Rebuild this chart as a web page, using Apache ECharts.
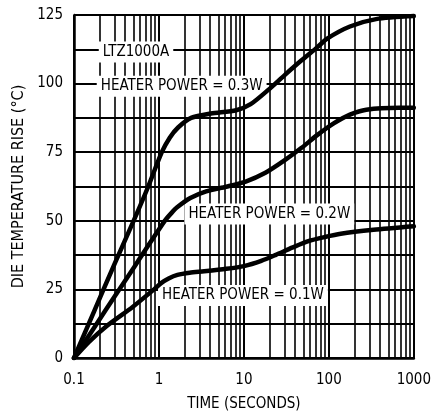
<!DOCTYPE html>
<html><head><meta charset="utf-8">
<script src="https://cdn.jsdelivr.net/npm/echarts@6/dist/echarts.min.js"></script>
<style>html,body{margin:0;padding:0;background:#fff}#c{width:434px;height:417px}</style>
</head><body><div id="c"></div>
<script>
// Heater power = 0.3W
const time03 = [0.1, 0.174, 0.304, 0.512, 0.748, 1.08, 1.34, 1.68, 2.39, 4.07, 8.1, 12, 19.5, 30.4, 47.3, 73.4, 95.5, 177, 359, 1000];
const temp03 = [0, 17.3, 34.7, 50.5, 62.5, 75, 80.3, 84, 87.5, 89.1, 90.3, 92.5, 97.8, 103.2, 108.4, 113.3, 116.4, 120.8, 123.5, 124.6];
// Heater power = 0.2W
const time02 = [0.1, 0.178, 0.302, 0.51, 0.655, 0.869, 1.17, 1.4, 1.65, 2.34, 3.6, 6.2, 10.5, 17.9, 30, 47.3, 73.4, 114, 177, 276, 667, 1000];
const temp02 = [0, 11.7, 22.5, 33.1, 38.3, 44, 50, 52.8, 55, 58.3, 60.7, 62.4, 64.3, 67.5, 72, 76.5, 81.3, 85.5, 88.7, 90.5, 91.2, 91.2];
// Heater power = 0.1W
const time01 = [0.1, 0.149, 0.239, 0.49, 0.875, 1.06, 1.3, 1.65, 2.3, 3.4, 6.2, 10, 16, 23.8, 36.9, 57.4, 89.3, 138, 335, 1000];
const temp01 = [0, 5.8, 11.5, 18.6, 25, 27.3, 29, 30.3, 31.1, 31.6, 32.5, 33.5, 35.4, 37.6, 40.2, 42.6, 44.1, 45.3, 46.7, 48];

const xTickLabels = ['0.1', '1', '10', '100', '1000'];
const yTickLabels = [0, 25, 50, 75, 100, 125];
const minorX = [0.2,0.3,0.4,0.5,0.6,0.7,0.8,0.9, 2,3,4,5,6,7,8,9, 20,30,40,50,60,70,80,90, 200,300,400,500,600,700,800,900];

const labelTexts = ['LTZ1000A', 'HEATER POWER = 0.3W', 'HEATER POWER = 0.2W', 'HEATER POWER = 0.1W'];
const labelTimes = [0.537, 1.85, 19.9, 9.74];
const labelTemps = [111.5, 99, 52.5, 22.8];

const FONT = '"Liberation Sans Narrow","DejaVu Sans Condensed","Arial Narrow",sans-serif';
const zip = (a, b) => a.map((v, i) => [v, b[i]]);

const curve = (name, t, y) => ({
  name, type: 'line', data: zip(t, y), smooth: 0.25, showSymbol: false, symbol: 'none',
  lineStyle: { color: '#000', width: 4.5, join: 'round', cap: 'round' }, z: 10, silent: true
});

const chart = echarts.init(document.getElementById('c'), null, { renderer: 'canvas' });
chart.setOption({
  animation: false,
  backgroundColor: '#fff',
  textStyle: { fontFamily: FONT, color: '#000' },
  grid: { left: 74, right: 12, top: 15, bottom: 54, containLabel: false },
  xAxis: {
    type: 'log', logBase: 10, min: 0.1, max: 1000,
    name: 'TIME (SECONDS)', nameLocation: 'middle', nameGap: 39,
    nameTextStyle: { fontSize: 15, color: '#000', fontFamily: FONT },
    axisLine: { show: true, lineStyle: { color: '#000', width: 2.5 } },
    axisTick: { show: false },
    splitLine: { show: true, lineStyle: { color: '#000', width: 2 } },
    axisLabel: {
      fontSize: 15, color: '#000', margin: 15, fontFamily: FONT,
      formatter: v => {
        const i = Math.round(Math.log10(v) + 1);
        return xTickLabels[i] !== undefined ? xTickLabels[i] : '';
      }
    }
  },
  yAxis: {
    type: 'value', min: 0, max: 125, interval: 12.5,
    name: 'DIE TEMPERATURE RISE (°C)', nameLocation: 'middle', nameGap: 40, nameRotate: 90,
    nameTextStyle: { fontSize: 16, color: '#000', fontFamily: FONT },
    axisLine: { show: true, lineStyle: { color: '#000', width: 2.5 } },
    axisTick: { show: false },
    splitLine: { show: true, lineStyle: { color: '#000', width: 2 } },
    axisLabel: {
      fontSize: 15, color: '#000', margin: 11, fontFamily: FONT,
      formatter: v => (yTickLabels.indexOf(Math.round(v * 10) / 10) >= 0 ? String(v) : '')
    }
  },
  series: [
    {
      name: 'minorGrid', type: 'line', data: [], silent: true, z: 1,
      markLine: {
        silent: true, symbol: ['none', 'none'], z: 1, animation: false,
        label: { show: false },
        lineStyle: { color: '#000', width: 1.6, type: 'solid' },
        emphasis: { disabled: true },
        data: minorX.map(v => ({ xAxis: v }))
      }
    },
    {
      name: 'labels', type: 'line', data: [], silent: true, z: 3,
      markPoint: {
        silent: true, z: 3, symbol: 'rect', symbolSize: 1, animation: false,
        itemStyle: { color: 'rgba(0,0,0,0)' },
        label: {
          show: true, position: 'inside', formatter: '{b}', fontSize: 15, color: '#000',
          fontFamily: FONT, backgroundColor: '#fff', padding: [3, 4]
        },
        data: labelTexts.map((s, i) => ({ name: s, coord: [labelTimes[i], labelTemps[i]] }))
      }
    },
    curve('0.3W', time03, temp03),
    curve('0.2W', time02, temp02),
    curve('0.1W', time01, temp01)
  ]
});
</script>
</body></html>
